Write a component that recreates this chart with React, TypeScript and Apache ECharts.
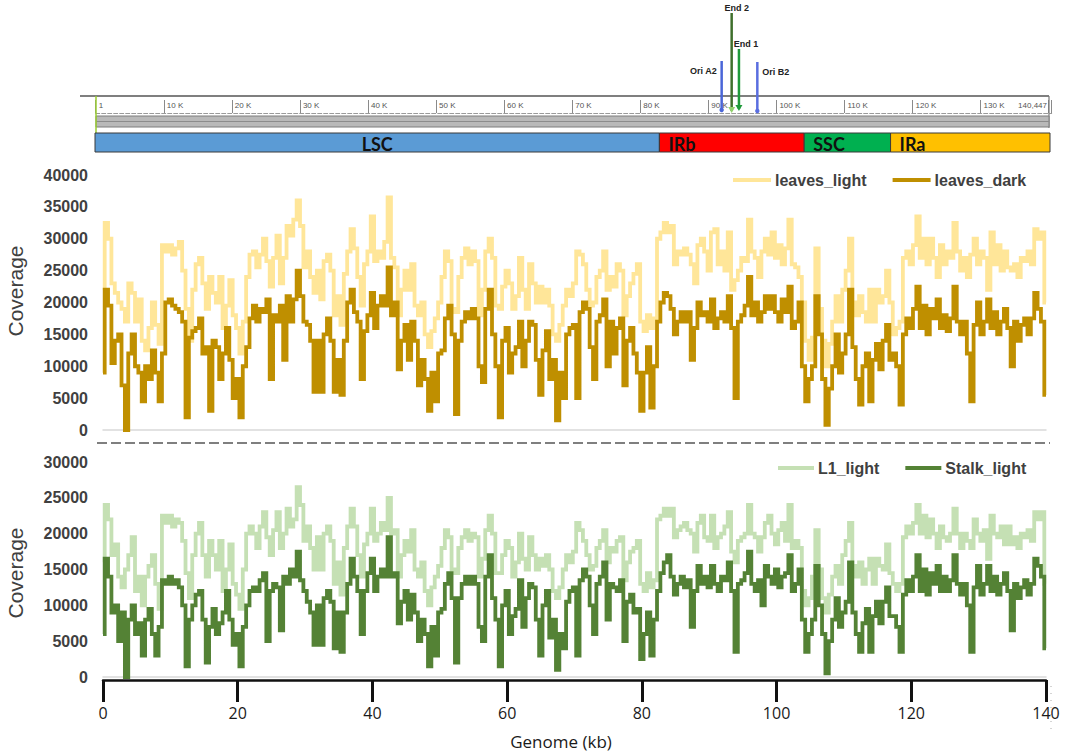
import React, { useEffect, useRef } from "react";
import * as echarts from "echarts";

// sampling step of the coverage tracks along the genome (kb)
const KB_STEP = 0.5;

const leavesLight = [
  22000, 32500, 30000, 23000, 21500, 20000, 19000, 17000, 23000, 21500,
  17000, 20500, 14000, 12500, 16000, 20000, 16500, 13500, 29000, 28000,
  29000, 27500, 28500, 29500, 25000, 19000, 14000, 22000, 26000, 27000,
  23000, 19000, 24000, 21500, 20000, 24000, 16000, 19500, 23500, 18000,
  16000, 12000, 17000, 24000, 27500, 28000, 25500, 27500, 30000, 26500,
  22500, 27000, 30500, 23000, 27000, 32000, 30500, 33000, 36000, 32000,
  25500, 28000, 24000, 21500, 25000, 20500, 26500, 27500, 25000, 18000,
  21000, 16500, 24500, 28000, 31500, 28500, 24000, 19500, 26000, 28000,
  33500, 26500, 28000, 27000, 29500, 36500, 27000, 25500, 18000, 22000,
  25000, 22000, 26000, 19500, 18000, 20000, 15000, 13000, 15500, 17500,
  20000, 24000, 28000, 26500, 19000, 18500, 24000, 27000, 28500, 26000,
  28000, 26500, 18000, 22000, 28000, 30000, 27000, 19500, 19000, 22500,
  25000, 23000, 19000, 21000, 27000, 22000, 19000, 26000, 23000, 20000,
  22500, 20000, 22000, 19500, 15000, 14000, 16500, 19500, 22000, 21000,
  23000, 28000, 27500, 26000, 22000, 19500, 20000, 24000, 25000, 28000,
  22000, 24000, 22500, 26000, 25000, 18000, 21000, 23000, 24500, 26000,
  17000, 15500, 18000, 16000, 17500, 30000, 31000, 32500, 31000, 32000,
  26000, 28000, 27500, 28500, 27500, 26000, 23000, 29000, 30000, 28000,
  25000, 31000, 31500, 26000, 28000, 25000, 31000, 22000, 23500, 25000,
  27000, 26500, 33000, 28000, 27000, 24000, 28000, 30000, 27500, 31000,
  27000, 29000, 26000, 28500, 33000, 26000, 25500, 24000, 20000, 14000,
  11000, 14500, 28500, 19000, 14000, 10000, 13500, 17000, 21000, 17000,
  22000, 25000, 30000, 20000, 18000, 21000, 18500, 17000, 22000, 17000,
  22000, 20000, 21000, 25000, 20000, 15000, 16000, 17000, 27000, 28000,
  26000, 29000, 33500, 27000, 30000, 26000, 30000, 27000, 24000, 29000,
  26000, 28000, 27000, 32500, 28000, 25000, 27000, 24000, 27500, 30000,
  26000, 28000, 27000, 22000, 31000, 26000, 29000, 25000, 28000, 25500,
  25000, 26000, 24000, 27000, 26500, 28000, 26000, 31500, 30000, 31000,
  20000,
];

const leavesDark = [
  9000, 22000, 19500, 10500, 14000, 15000, 7000, 0, 12000, 15000,
  10000, 9000, 4500, 10000, 8000, 12500, 9000, 4500, 12000, 20000,
  20500, 19500, 19000, 18500, 17000, 2000, 14500, 15500, 16000, 17500,
  12000, 13000, 3000, 14000, 13000, 8000, 12000, 16000, 11000, 5000,
  8000, 2000, 10000, 13000, 17500, 19500, 17000, 19000, 18500, 20500,
  8000, 18000, 17000, 19500, 11000, 21000, 17000, 20500, 25000, 21000,
  17000, 16500, 14000, 6000, 14000, 6000, 15000, 17500, 14000, 6000,
  11000, 5500, 14000, 20000, 22000, 18500, 17000, 8000, 15500, 18000,
  21500, 16000, 19500, 21000, 19500, 25500, 18000, 20000, 9500, 14000,
  16500, 11000, 17000, 14000, 7000, 11000, 8000, 3000, 9000, 4500,
  12000, 12500, 17500, 19500, 15000, 2500, 14000, 17000, 18500, 17500,
  19000, 17500, 10000, 7500, 19000, 22000, 15000, 10000, 2000, 14000,
  16000, 9000, 12000, 13000, 17000, 10000, 14000, 17000, 16500, 11000,
  5500, 12500, 15500, 8000, 11000, 1500, 9000, 5000, 15000, 16000,
  16500, 5000, 18500, 20000, 19000, 13000, 8000, 17000, 18000, 20500,
  10000, 17000, 12000, 16000, 17500, 7000, 14000, 16000, 12000, 9000,
  3000, 9000, 13000, 3500, 10000, 17000, 20000, 21500, 21000, 19000,
  15000, 17000, 18500, 17000, 18500, 11000, 16000, 20000, 18000, 18500,
  17000, 20500, 16000, 17500, 18500, 17000, 21000, 16000, 5000, 17000,
  18000, 19500, 24000, 18000, 20000, 17000, 18500, 21000, 19000, 21000,
  18500, 17000, 20500, 18500, 22500, 16000, 17000, 20000, 10000, 4500,
  8000, 10000, 21000, 15000, 8000, 800, 6500, 10000, 15000, 9000,
  12000, 15000, 22000, 13000, 8000, 4000, 10000, 12000, 4500, 11000,
  13500, 9500, 14000, 16500, 11000, 12000, 10000, 4000, 15000, 17500,
  16000, 19000, 22500, 16000, 19500, 15000, 19000, 17500, 20500, 16000,
  18000, 15500, 17500, 22500, 17000, 15000, 17000, 12000, 4500, 16500,
  20000, 15000, 17000, 20500, 16000, 18500, 15000, 17000, 19000, 16000,
  10000, 17000, 14000, 16500, 17500, 15000, 17500, 21500, 19000, 17000,
  5500,
];

const l1Light = [
  16000, 24000, 22000, 17000, 18500, 14000, 12500, 15000, 17000, 19500,
  12000, 14000, 10000, 14000, 15500, 17000, 13000, 9500, 22500, 21500,
  22500, 21000, 22000, 21500, 19000, 14500, 11000, 17000, 20000, 21500,
  17000, 14000, 19000, 17000, 15000, 19000, 12000, 15000, 18500, 13000,
  11500, 9500, 15000, 20000, 21000, 20000, 18000, 21000, 23000, 19500,
  17000, 20500, 23000, 18000, 20000, 23500, 21000, 22000, 26500, 24000,
  19000, 21000, 18000, 15000, 19500, 15000, 20000, 21000, 19000, 13000,
  16000, 11500, 18000, 21000, 23500, 21000, 17000, 14000, 18500, 20000,
  23500, 19000, 20000, 21500, 20500, 25000, 20000, 20500, 14000, 17000,
  19000, 17500, 20500, 15000, 14000, 16000, 12000, 10000, 12500, 14000,
  15500, 18000, 20500, 19500, 15000, 14500, 18000, 19500, 20500, 19000,
  20000, 19500, 14000, 16500, 20500, 22500, 20000, 14500, 14500, 17000,
  19000, 18000, 14000, 16000, 20000, 16500, 15000, 19500, 17000, 15000,
  16500, 15500, 17000, 15000, 12000, 11000, 12500, 15000, 17000, 16000,
  17500, 21500, 20500, 19000, 17000, 15000, 15500, 18000, 19000, 20500,
  16000, 18000, 17500, 19000, 19500, 13500, 16000, 17500, 18000, 19000,
  13000, 12000, 14500, 12500, 13500, 22000, 22500, 23500, 22500, 23500,
  19500, 20500, 21000, 21500, 20500, 20000, 17500, 21500, 22500, 19500,
  19000, 22500, 18000, 19500, 20000, 21000, 23000, 17500, 16000, 19000,
  19500, 20000, 24000, 20000, 19500, 17500, 19500, 21500, 22500, 20000,
  18500, 20500, 21500, 19000, 24000, 18000, 19000, 18000, 12000, 10000,
  11000, 14000, 20500, 15000, 11000, 9000, 11500, 14000, 15500, 13000,
  17000, 19000, 21500, 15500, 14000, 16000, 13000, 15000, 16500, 13000,
  16500, 15500, 15000, 18500, 14500, 13000, 12000, 13000, 19500, 21000,
  20000, 21500, 24000, 20000, 22500, 19500, 22000, 20000, 18000, 21000,
  19500, 19000, 20000, 23500, 20000, 18000, 20000, 19000, 18000, 22000,
  20000, 19000, 20500, 16500, 22500, 20000, 19500, 21000, 18500, 21000,
  18500, 19500, 18000, 20000, 19500, 20500, 19000, 23000, 22000, 23000,
  13000,
];

const stalkLight = [
  6000, 16500, 14000, 9000, 10000, 5000, 9000, 0, 8000, 10000,
  6000, 7500, 3000, 8000, 9500, 6000, 3000, 7000, 13500, 13000,
  14000, 13000, 13500, 12500, 10000, 1500, 8000, 10000, 11500, 12000,
  8000, 2000, 7000, 9500, 6000, 7500, 9000, 12000, 8000, 4500,
  6000, 1500, 7000, 10000, 12000, 12500, 12000, 13500, 14500, 5000,
  12000, 13000, 12500, 6500, 14000, 13000, 15000, 14000, 17500, 13500,
  12000, 10500, 9000, 4500, 10000, 4500, 11000, 12000, 10500, 4000,
  9000, 3500, 9000, 13000, 16500, 14000, 12000, 6000, 12000, 14500,
  16500, 12000, 14000, 15000, 14000, 19500, 14000, 14500, 7500, 10500,
  12000, 8000, 11500, 9000, 5000, 8000, 6000, 1500, 7000, 3000,
  9000, 9500, 13000, 14500, 11000, 2000, 11000, 13000, 14000, 13000,
  14000, 13000, 7000, 5000, 14000, 17000, 11000, 8000, 1500, 10000,
  12000, 6000, 8500, 9500, 13500, 7000, 11000, 13000, 12500, 8000,
  3000, 10000, 12000, 5500, 8000, 1000, 6000, 4000, 10500, 12000,
  12500, 3000, 13500, 15000, 14000, 10000, 6000, 13000, 14000, 16000,
  8000, 13000, 12500, 12000, 13500, 5000, 10500, 11500, 9000, 9500,
  2500, 6000, 9000, 3000, 8000, 12000, 14500, 16000, 17000, 14000,
  11500, 13000, 14000, 12500, 13500, 7000, 12000, 15500, 13000, 14000,
  12500, 15500, 13000, 12000, 14000, 13500, 16000, 12000, 3500, 13000,
  13500, 14500, 17500, 13000, 12000, 13500, 10000, 15500, 14000, 13000,
  15000, 12500, 14000, 14500, 17000, 12000, 13000, 15000, 8000, 3500,
  6000, 8000, 15500, 10000, 6000, 500, 5000, 8000, 11000, 7000,
  9000, 10500, 16000, 9000, 6000, 3500, 7500, 9500, 3500, 8500,
  10500, 7500, 10500, 12500, 8500, 8500, 7000, 3500, 11500, 13500,
  12000, 14000, 17000, 12000, 15000, 11500, 14500, 13000, 15500, 12000,
  14000, 12000, 13500, 17000, 13000, 11500, 13000, 10000, 3500, 12500,
  15500, 11500, 13000, 15500, 12000, 14000, 11500, 13000, 14500, 12000,
  6500, 13000, 11000, 12500, 13500, 11500, 13000, 16500, 15500, 14000,
  4000,
];

// genome map
const genomeLengthKb = 140.447;
const genomeLengthLabel = "140,447";
const regionNames = ["LSC", "IRb", "SSC", "IRa"];
const regionStartKb = [0, 83.0, 104.3, 117.0];
const regionEndKb = [83.0, 104.3, 117.0, 140.447];

const markerNames = ["Ori A2", "End 2", "End 1", "Ori B2"];
const markerKb = [91.96, 93.43, 94.5, 97.2];

// styles
const regionColors: Record<string, string> = {
  LSC: "#5B9BD5",
  IRb: "#FF0000",
  SSC: "#00B050",
  IRa: "#FFC000",
};

const markerLook: Record<string, any> = {
  "Ori A2": { top: 61, bottom: 110, color: "#4a66d8", head: "dot", dx: -5, ly: 71, align: "right" },
  "End 2": { top: 13, bottom: 111, color: "#3f6f2c", head: "arrow", headColor: "#92d36e", dx: 5, ly: 8, align: "center" },
  "End 1": { top: 49, bottom: 109, color: "#1f9a3a", head: "arrow", headColor: "#1f9a3a", dx: 7, ly: 44, align: "center" },
  "Ori B2": { top: 62, bottom: 111, color: "#5a6ee0", head: "dot", dx: 5, ly: 72, align: "left" },
};

const toPairs = (arr: number[]) => arr.map((v, i) => [i * KB_STEP, v]);

const yLabel = {
  fontFamily: "Liberation Sans",
  fontWeight: "bold",
  fontSize: 16,
  color: "#404040",
  margin: 15,
  formatter: (v: number) => String(v),
};

const LINE_W = 3.8;

export default function App() {
  const ref = useRef<HTMLDivElement>(null);

  useEffect(() => {
    if (!ref.current) return;
    const chart = echarts.init(ref.current, undefined, { renderer: "svg" });

    const lineSeries = (name: string, data: number[], color: string, gi: number, z: number) => ({
      type: "line",
      name,
      xAxisIndex: gi,
      yAxisIndex: gi,
      data: toPairs(data),
      step: "middle",
      showSymbol: false,
      symbol: "none",
      color,
      lineStyle: { color, width: LINE_W, join: "miter", miterLimit: 2 },
      z,
    });

    const option: any = {
      animation: false,
      backgroundColor: "#ffffff",
      grid: [
        { left: 95.7, top: 96, width: 956, height: 17, outerBoundsMode: "none" },
        { left: 95, top: 133, width: 955, height: 19, outerBoundsMode: "none" },
        { left: 103, top: 175, width: 943, height: 255, outerBoundsMode: "none" },
        { left: 103, top: 462, width: 943, height: 215, outerBoundsMode: "none" },
      ],
      xAxis: [
        {
          gridIndex: 0,
          type: "value",
          position: "bottom",
          min: 0,
          max: genomeLengthKb,
          interval: 10,
          axisLine: { show: true, lineStyle: { color: "#9a9a9a", width: 1, type: [4, 2] } },
          axisTick: { show: true, inside: true, length: 13, lineStyle: { color: "#8a8a8a", width: 1 } },
          axisLabel: {
            show: true,
            inside: true,
            align: "left",
            margin: 4,
            fontSize: 8,
            fontFamily: "Liberation Sans",
            color: "#555",
            padding: [0, 0, 0, 3],
            formatter: (v: number) => (v === 0 ? "1" : v >= 140 ? "" : `${v} K`),
          },
          splitLine: { show: false },
        },
        { gridIndex: 1, type: "value", min: 0, max: genomeLengthKb, show: false },
        {
          gridIndex: 2,
          type: "value",
          position: "bottom",
          min: 0,
          max: 140,
          axisLine: { show: true, lineStyle: { color: "#d9d9d9", width: 1.5 } },
          axisTick: { show: false },
          axisLabel: { show: false },
          splitLine: { show: false },
        },
        {
          gridIndex: 3,
          type: "value",
          position: "bottom",
          min: 0,
          max: 140,
          axisLine: { show: true, lineStyle: { color: "#d9d9d9", width: 1.5 } },
          axisTick: { show: false },
          axisLabel: { show: false },
          splitLine: { show: false },
        },
        {
          gridIndex: 3,
          type: "value",
          position: "bottom",
          min: 0,
          max: 140,
          interval: 20,
          offset: 3,
          axisLine: { show: true, lineStyle: { color: "#111", width: 2.5 } },
          axisTick: { show: true, length: 22, lineStyle: { color: "#111", width: 3 } },
          axisLabel: { margin: 25, fontSize: 16, fontFamily: "Open Sans", color: "#1a1a1a" },
          splitLine: { show: false },
        },
      ],
      yAxis: [
        { gridIndex: 0, type: "value", min: 0, max: 1, show: false },
        { gridIndex: 1, type: "value", min: 0, max: 1, show: false },
        {
          gridIndex: 2,
          type: "value",
          min: 0,
          max: 40000,
          interval: 5000,
          axisLine: { show: false },
          axisTick: { show: false },
          splitLine: { show: false },
          axisLabel: yLabel,
        },
        {
          gridIndex: 3,
          type: "value",
          min: 0,
          max: 30000,
          interval: 5000,
          axisLine: { show: false },
          axisTick: { show: false },
          splitLine: { show: false },
          axisLabel: yLabel,
        },
      ],
      legend: [
        {
          data: ["leaves_light", "leaves_dark"],
          left: 728,
          top: 167,
          icon: "rect",
          itemWidth: 38,
          itemHeight: 4,
          itemGap: 26,
          selectedMode: false,
          textStyle: { fontFamily: "Liberation Sans", fontWeight: "bold", fontSize: 16, color: "#404040", padding: [0, 0, 0, -1] },
        },
        {
          data: ["L1_light", "Stalk_light"],
          left: 773,
          top: 455,
          icon: "rect",
          itemWidth: 36,
          itemHeight: 4,
          itemGap: 26,
          selectedMode: false,
          textStyle: { fontFamily: "Liberation Sans", fontWeight: "bold", fontSize: 16, color: "#404040", padding: [0, 0, 0, -1] },
        },
      ],
      graphic: {
        elements: [
          { type: "line", shape: { x1: 80, y1: 96, x2: 1049, y2: 96 }, style: { stroke: "#555", lineWidth: 1.5 }, z: 1 },
          { type: "line", shape: { x1: 1049, y1: 96, x2: 1049, y2: 128 }, style: { stroke: "#777", lineWidth: 1.2 }, z: 1 },
          { type: "rect", shape: { x: 96, y: 116, width: 953, height: 11 }, style: { fill: "#b9b9b9", stroke: "#7d7d7d", lineWidth: 1 }, z: 1 },
          { type: "line", shape: { x1: 96, y1: 121.5, x2: 1049, y2: 121.5 }, style: { stroke: "#8c8c8c", lineWidth: 1 }, z: 1 },
          { type: "line", shape: { x1: 96, y1: 96, x2: 96, y2: 133 }, style: { stroke: "#9acd32", lineWidth: 1.5 }, z: 1 },
          {
            type: "text",
            x: 1047,
            y: 105,
            style: { text: genomeLengthLabel, font: '8px "Liberation Sans"', fill: "#555", align: "right", verticalAlign: "middle" },
          },
          {
            type: "line",
            shape: { x1: 97, y1: 443, x2: 1050, y2: 443 },
            style: { stroke: "#7f7f7f", lineWidth: 2, lineDash: [10, 4] },
          },
          {
            type: "line",
            shape: { x1: 1051, y1: 686, x2: 1051, y2: 735 },
            style: { stroke: "#aaaaaa", lineWidth: 1, lineDash: [1, 6] },
          },
          {
            type: "text",
            x: 15,
            y: 291,
            rotation: Math.PI / 2,
            style: { text: "Coverage", font: '21px "Liberation Sans"', fill: "#404040", align: "center", verticalAlign: "middle" },
          },
          {
            type: "text",
            x: 15,
            y: 573,
            rotation: Math.PI / 2,
            style: { text: "Coverage", font: '21px "Liberation Sans"', fill: "#404040", align: "center", verticalAlign: "middle" },
          },
          {
            type: "text",
            x: 561,
            y: 741,
            style: { text: "Genome (kb)", font: '17px "Open Sans"', fill: "#1a1a1a", align: "center", verticalAlign: "middle" },
          },
        ],
      },
      series: [
        {
          type: "custom",
          name: "regions",
          xAxisIndex: 1,
          yAxisIndex: 1,
          silent: true,
          z: 5,
          data: regionNames.map((_, i) => [regionStartKb[i], regionEndKb[i], i]),
          renderItem: (_params: any, api: any) => {
            const s = api.coord([api.value(0), 1]);
            const e = api.coord([api.value(1), 0]);
            const name = regionNames[api.value(2)];
            const centered = name === "LSC";
            return {
              type: "group",
              children: [
                {
                  type: "rect",
                  shape: { x: s[0], y: s[1], width: e[0] - s[0], height: e[1] - s[1] },
                  style: { fill: regionColors[name], stroke: "#3a3a3a", lineWidth: 1 },
                },
                {
                  type: "text",
                  x: centered ? (s[0] + e[0]) / 2 : s[0] + 9,
                  y: (s[1] + e[1]) / 2 + 1,
                  style: {
                    text: name,
                    font: 'bold 18px "Lato"',
                    fill: "#111",
                    align: centered ? "center" : "left",
                    verticalAlign: "middle",
                  },
                },
              ],
            };
          },
        },
        {
          type: "custom",
          name: "markers",
          xAxisIndex: 0,
          yAxisIndex: 0,
          silent: true,
          clip: false,
          z: 10,
          data: markerKb.map((k, i) => [k, i]),
          renderItem: (_params: any, api: any) => {
            const x = api.coord([api.value(0), 0])[0];
            const name = markerNames[api.value(1)];
            const m = markerLook[name];
            const children: any[] = [
              {
                type: "line",
                shape: { x1: x, y1: m.top, x2: x, y2: m.bottom },
                style: { stroke: m.color, lineWidth: 2.5 },
              },
            ];
            if (m.head === "dot") {
              children.push({ type: "circle", shape: { cx: x, cy: m.bottom, r: 2.2 }, style: { fill: m.color } });
            } else {
              children.push({
                type: "polygon",
                shape: { points: [[x - 3.5, m.bottom - 4], [x + 3.5, m.bottom - 4], [x, m.bottom + 2]] },
                style: { fill: m.headColor },
              });
            }
            children.push({
              type: "text",
              x: x + m.dx,
              y: m.ly,
              style: {
                text: name,
                font: 'bold 9px "Liberation Sans"',
                fill: "#222",
                align: m.align,
                verticalAlign: "middle",
              },
            });
            return { type: "group", children };
          },
        },
        lineSeries("leaves_light", leavesLight, "#FFE699", 2, 2),
        lineSeries("leaves_dark", leavesDark, "#BF8F00", 2, 3),
        lineSeries("L1_light", l1Light, "#C5E0B4", 3, 2),
        lineSeries("Stalk_light", stalkLight, "#548235", 3, 3),
      ],
    };

    chart.setOption(option);
    return () => chart.dispose();
  }, []);

  return (
    <div
      ref={ref}
      style={{ position: "absolute", left: 0, top: 0, width: 1065, height: 755, background: "#fff" }}
    />
  );
}
